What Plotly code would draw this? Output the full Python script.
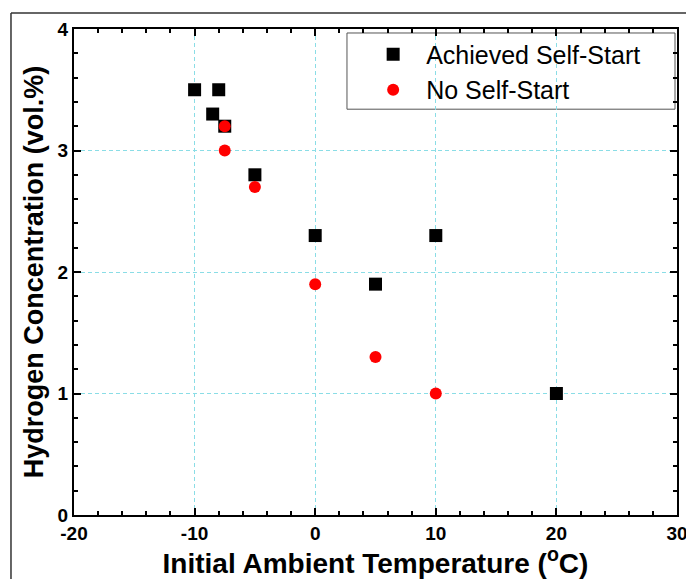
import plotly.graph_objects as go

# Data
ach_temp = [-10, -8, -8.5, -7.5, -5, 0, 5, 10, 20]
ach_h2 = [3.5, 3.5, 3.3, 3.2, 2.8, 2.3, 1.9, 2.3, 1.0]
no_temp = [-7.5, -7.5, -5, 0, 5, 10]
no_h2 = [3.2, 3.0, 2.7, 1.9, 1.3, 1.0]
x_ticks = [-20, -10, 0, 10, 20, 30]
x_labels = ["-20", "-10", "0", "10", "20", "30"]
y_ticks = [0, 1, 2, 3, 4]
y_labels = ["0", "1", "2", "3", "4"]

FONT = "Arial, Liberation Sans, sans-serif"

fig = go.Figure()
fig.add_trace(go.Scatter(x=ach_temp, y=ach_h2, mode="markers", name="Achieved Self-Start",
                         marker=dict(symbol="square", size=13, color="black")))
fig.add_trace(go.Scatter(x=no_temp, y=no_h2, mode="markers", name="No Self-Start",
                         marker=dict(symbol="circle", size=12, color="#ff0000")))

axis_common = dict(
    showline=True, linecolor="black", linewidth=2, mirror="allticks",
    ticks="inside", ticklen=7, tickwidth=1.5, tickcolor="black",
    showgrid=True, gridcolor="#8adde6", gridwidth=1, griddash="4px,3px",
    zeroline=False, automargin=False, ticklabeloverflow="allow",
    tickfont=dict(family=FONT, size=19, color="black", weight="bold"),
)

fig.update_xaxes(range=[-20, 30], tickvals=x_ticks, ticktext=x_labels,
                 minor=dict(dtick=2, tick0=-20, ticks="inside", ticklen=4, tickcolor="black", showgrid=False),
                 title=dict(text="Initial Ambient Temperature (<sup>o</sup>C)",
                            font=dict(family=FONT, size=28, color="black", weight="bold"), standoff=4),
                 **axis_common)
fig.update_yaxes(range=[0, 4], tickvals=y_ticks, ticktext=y_labels,
                 minor=dict(dtick=0.2, ticks="inside", ticklen=4, tickcolor="black", showgrid=False),
                 title=dict(text="Hydrogen Concentration (vol.%)",
                            font=dict(family=FONT, size=27, color="black", weight="bold"), standoff=6),
                 **axis_common)

# Outer frame (only top and left edges visible in original)
fig.add_shape(type="line", xref="paper", yref="paper", x0=-0.1045, x1=1.5, y0=1.033, y1=1.033,
              line=dict(color="#333333", width=1.5), layer="below")
fig.add_shape(type="line", xref="paper", yref="paper", x0=-0.1045, x1=-0.1045, y0=-0.5, y1=1.033,
              line=dict(color="#333333", width=1.5), layer="below")
# Legend frame
fig.add_shape(type="rect", xref="paper", yref="paper", x0=0.4527, x1=0.9967, y0=0.835, y1=0.9918,
              line=dict(color="#555555", width=1), fillcolor="white", layer="below")

fig.update_layout(
    width=686, height=579,
    margin=dict(l=74, r=9, t=29, b=64),
    plot_bgcolor="white", paper_bgcolor="white",
    showlegend=True,
    legend=dict(x=0.453, y=0.995, xanchor="left", yanchor="top",
                bgcolor="rgba(0,0,0,0)", borderwidth=0,
                font=dict(family=FONT, size=25, color="black"),
                indentation=13, itemwidth=56, tracegroupgap=0),
)

fig.write_html("out.html")
